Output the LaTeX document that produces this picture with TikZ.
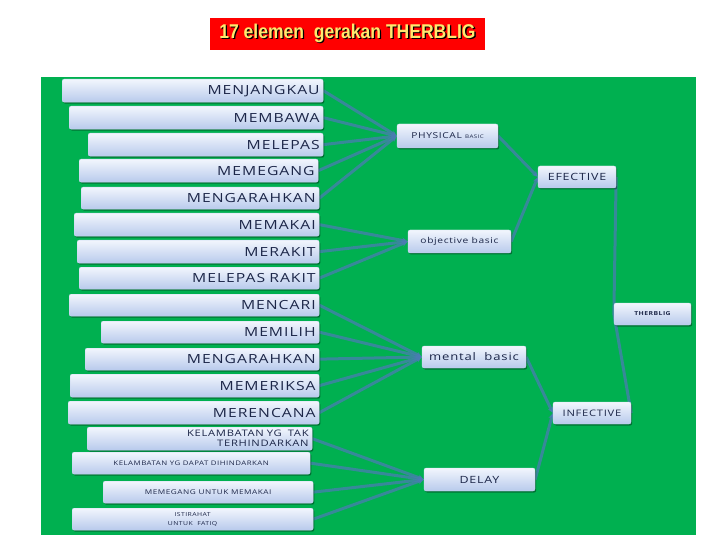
\documentclass[tikz,border=0pt]{standalone}
\usepackage{fontspec}
\usepackage{tikz}
\usetikzlibrary{arrows.meta, shapes, positioning, backgrounds, shadows}
\newfontfamily\boxfont[FakeStretch=1.25,LetterSpace=8]{Open Sans}
\newfontfamily\titlefont[FakeStretch=0.88]{Liberation Sans}
\definecolor{slidegreen}{RGB}{0,176,80}
\definecolor{titlered}{RGB}{255,0,0}
\definecolor{titleyellow}{RGB}{255,232,110}
\definecolor{boxtop}{RGB}{242,246,253}
\definecolor{boxbottom}{RGB}{184,202,236}
\definecolor{boxtext}{RGB}{28,38,72}
\definecolor{linkblue}{RGB}{74,124,178}
\newcommand{\shadowtext}[1]{\rlap{\hspace{1.3bp}\raisebox{-1.3bp}{\color{black}#1}}#1}
\tikzset{
  box/.style={rounded corners=2bp, top color=boxtop, bottom color=boxbottom,
    draw=boxbottom!70!white, line width=0.3bp, text=boxtext, inner sep=0pt,
    drop shadow={shadow xshift=1.2bp, shadow yshift=-1.5bp, opacity=0.35, fill=black}},
  leaf/.style={box, align=right, font=\boxfont\fontsize{12.6}{14}\selectfont},
  group/.style={box, align=center},
  link/.style={linkblue, line width=3bp, draw opacity=0.75, -{Stealth[length=6bp,width=6bp]}},
  trunk/.style={linkblue, line width=3bp, draw opacity=0.75},
}

\begin{document}
\begin{tikzpicture}[x=1bp, y=-1bp]
\useasboundingbox (0,0) rectangle (720,540);
\node[fill=titlered, minimum width=275bp, minimum height=32bp, text=titleyellow,
  font=\titlefont\bfseries\fontsize{20}{22}\selectfont] (title) at (347.5,34)
  {\shadowtext{17 elemen\ \ gerakan THERBLIG}};

\foreach \name/\xl/\yt/\xr/\yb/\txt in {
  menjangkau/62/79/323/102/MENJANGKAU,
  membawa/69/106/323/129/MEMBAWA,
  melepas/88/133/323/156/MELEPAS,
  memegang/79/159/318/182/MEMEGANG,
  mengarahkan/81/187/319/209/MENGARAHKAN,
  memakai/74/213/319/236/MEMAKAI,
  merakit/77/240/319/263/MERAKIT,
  melepasrakit/79/267/319/289/MELEPAS RAKIT,
  mencari/69/294/319/316/MENCARI,
  memilih/101/321/319/343/MEMILIH,
  mengarahkanb/85/348/319/370/MENGARAHKAN,
  memeriksa/70/374/319/397/MEMERIKSA,
  merencana/68/401/319/424/MERENCANA}
{
  \pgfmathsetmacro\w{\xr-\xl}
  \pgfmathsetmacro\h{\yb-\yt}
  \pgfmathsetmacro\tw{\xr-\xl-7}
  \node[leaf, minimum width=\w bp, minimum height=\h bp, text width=\tw bp, anchor=north west]
    (\name) at (\xl,\yt) {\txt};
}
\node[box, minimum width=225bp, minimum height=23bp, text width=218bp, align=right, anchor=north west,
  font=\boxfont\fontsize{9}{10}\selectfont] (takhindar) at (87,427) {KELAMBATAN YG\ \ TAK\\TERHINDARKAN};
\node[box, minimum width=238bp, minimum height=22bp, anchor=north west,
  font=\boxfont\fontsize{6.3}{8}\selectfont] (dapathindar) at (72,452) {KELAMBATAN YG DAPAT DIHINDARKAN};
\node[box, minimum width=210bp, minimum height=22bp, anchor=north west,
  font=\boxfont\fontsize{6.6}{8}\selectfont] (memegangpakai) at (103,481) {MEMEGANG UNTUK MEMAKAI};
\node[box, minimum width=241bp, minimum height=22bp, anchor=north west, align=center,
  font=\boxfont\fontsize{5.5}{9}\selectfont] (istirahat) at (72,508) {ISTIRAHAT\\UNTUK\ \ FATIQ};

\node[group, minimum width=101bp, minimum height=24bp, font=\boxfont\fontsize{8.2}{9}\selectfont]
  (physical) at (447.5,136) {PHYSICAL {\fontsize{5}{5}\selectfont BASIC}};
\node[group, minimum width=103bp, minimum height=23bp, font=\boxfont\fontsize{8.2}{10}\selectfont]
  (objective) at (459.5,241.5) {objective basic};
\node[group, minimum width=104bp, minimum height=22bp, font=\boxfont\fontsize{10.5}{12}\selectfont]
  (mental) at (474,357) {mental\ \ basic};
\node[group, minimum width=111bp, minimum height=23bp, font=\boxfont\fontsize{10}{12}\selectfont]
  (delay) at (479.5,479.5) {DELAY};
\node[group, minimum width=78bp, minimum height=22bp, font=\boxfont\fontsize{10}{12}\selectfont]
  (efective) at (577,177) {EFECTIVE};
\node[group, minimum width=78bp, minimum height=22bp, font=\boxfont\fontsize{9}{11}\selectfont]
  (infective) at (592,413) {INFECTIVE};
\node[group, minimum width=77bp, minimum height=22bp, font=\boxfont\bfseries\fontsize{5.5}{7}\selectfont]
  (therblig) at (652.5,314) {THERBLIG};

\begin{scope}[on background layer]
\fill[slidegreen] (41,77) rectangle (696,535);
\foreach \src/\dst in {menjangkau/physical, membawa/physical, melepas/physical, memegang/physical,
  mengarahkan/physical, memakai/objective, merakit/objective, melepasrakit/objective,
  mencari/mental, memilih/mental, mengarahkanb/mental, memeriksa/mental, merencana/mental,
  takhindar/delay, dapathindar/delay, memegangpakai/delay, istirahat/delay,
  physical/efective, objective/efective, mental/infective, delay/infective}
  \draw[link] (\src.east) -- (\dst.west);
\draw[trunk] (therblig.west) -- (efective.east);
\draw[trunk] (therblig.west) -- (infective.east);
\end{scope}
\end{tikzpicture}
\end{document}
